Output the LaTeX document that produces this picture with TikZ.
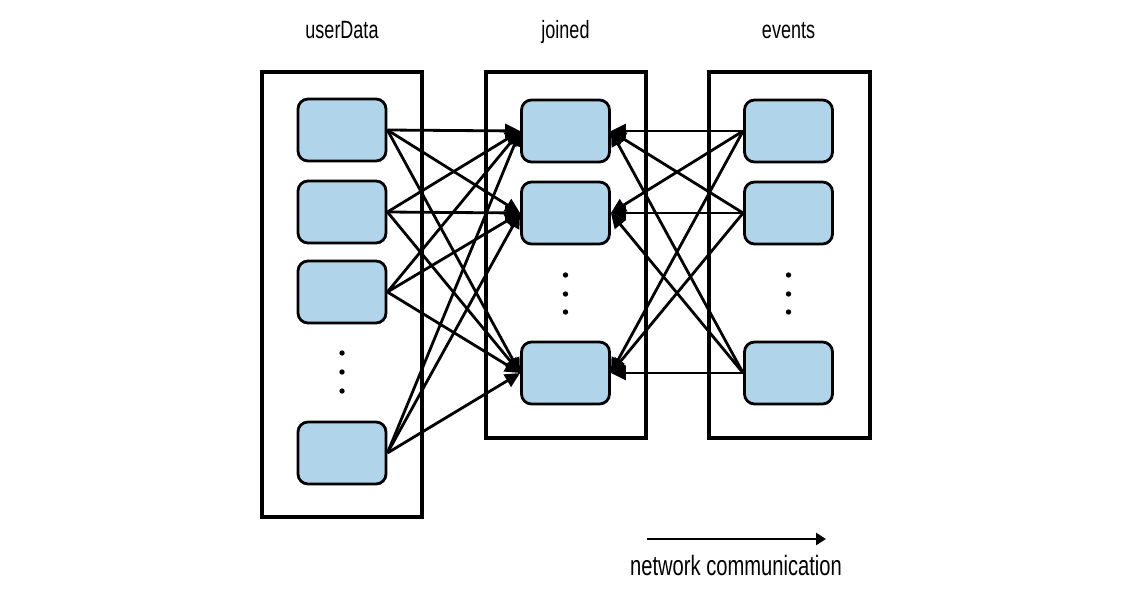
\documentclass[tikz,border=0pt]{standalone}
\usepackage{fontspec}
\setmainfont[FakeStretch=0.72]{Liberation Sans}
\usetikzlibrary{arrows.meta}
\definecolor{taskblue}{RGB}{176,212,234}
\begin{document}
\begin{tikzpicture}[x=1pt,y=-1pt,
  task/.style={draw,line width=2.8pt,rounded corners=10pt,fill=taskblue,minimum width=88pt,minimum height=62pt,inner sep=0pt},
  part/.style={line width=3.2pt},
  net/.style={line width=2.8pt,-{Triangle[length=15pt,width=14pt]}},
  title/.style={font=\fontsize{25}{28}\selectfont,anchor=base}]
  \useasboundingbox (0,0) rectangle (1129,595);
  \pgfmathsetmacro{\xuser}{342}
  \pgfmathsetmacro{\xjoin}{565.5}
  \pgfmathsetmacro{\xevent}{788.5}

  % Partitions.
  \draw[part] (262,72) rectangle (422,517);
  \draw[part] (486,72) rectangle (646,438);
  \draw[part] (709,72) rectangle (870,438);
  \node[title] (userdata) at (\xuser,38) {userData};
  \node[title] (joined) at (\xjoin,38) {joined};
  \node[title] (events) at (\xevent,38) {events};

  % Tasks
  \foreach \n/\y in {1/130,2/212,3/292,4/453}
  \node[task] (u\n) at (\xuser,\y) {};
  \foreach \n/\y in {1/131,2/213,3/373} {
  \node[task] (j\n) at (\xjoin,\y) {};
  \node[task] (e\n) at (\xevent,\y) {};
  }
  \foreach \y in {353,372,391}
  \fill (\xuser,\y) circle (2.7pt);
  \foreach \y in {275,294,312} {
  \fill (\xjoin,\y) circle (2.7pt);
  \fill (\xevent,\y) circle (2.7pt);
  }

  % Shuffle
  \foreach \s in {1,...,4}
  \foreach \t in {1,2,3}
  \draw[net] (u\s.east) -- (j\t.west);
  \foreach \s in {1,2,3}
  \foreach \t in {1,2,3}
  \draw[net] (e\s.west) -- (j\t.east);

  % Legend
  \coordinate (legstart) at (647,539);
  \coordinate (legend) at (826,539);
  \draw[line width=2.6pt,-{Triangle[length=10pt,width=12pt]}] (legstart) -- (legend);
  \node[title,font=\fontsize{28}{30}\selectfont] (netcomm) at (736,575) {network communication};
\end{tikzpicture}
\end{document}
